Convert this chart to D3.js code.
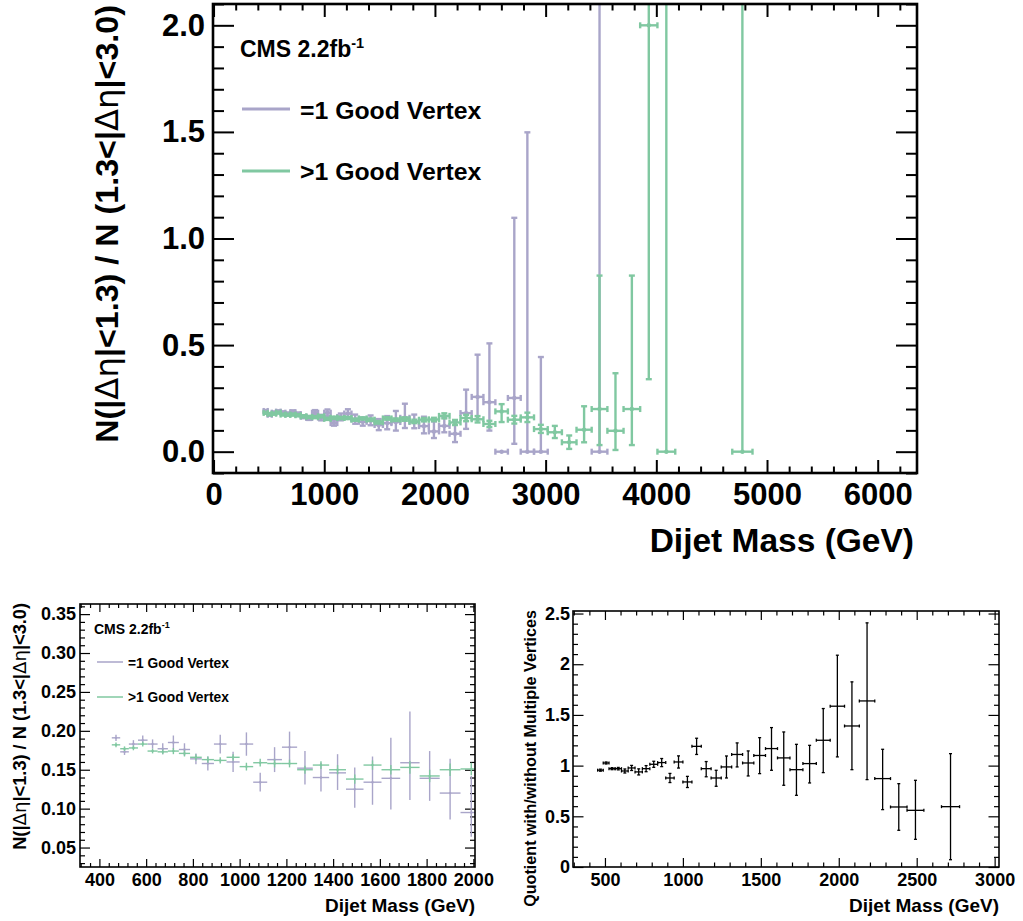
<!DOCTYPE html>
<html>
<head>
<meta charset="utf-8">
<script src="https://cdn.jsdelivr.net/npm/d3@7"></script>
<style>
  body { margin: 0; background: #fff; }
  svg { display: block; }
  text { font-family: "Liberation Sans", Arial, Helvetica, sans-serif; font-weight: bold; fill: #000; }
</style>
</head>
<body>
<svg id="chart" width="1023" height="921"></svg>
<script>
// Dijet mass bin edges (GeV); bin i spans binEdges[i] .. binEdges[i+1]
const binEdges = [453, 489, 526, 565, 606, 649, 693, 740, 788, 838, 890, 944, 1000, 1058, 1118, 1181,
  1246, 1313, 1383, 1455, 1530, 1607, 1687, 1770, 1856, 1945, 2037, 2132, 2231, 2332, 2438, 2546,
  2659, 2775, 2895, 3019, 3147, 3279, 3416, 3558, 3704, 3854, 4010, 4171, 4337, 4509, 4686, 4869];

const seriesNames = ["=1 Good Vertex", ">1 Good Vertex"];

// Ratio N(|Δη|<1.3)/N(1.3<|Δη|<3.0), events with exactly one good vertex
const oneVtx = [0.191, 0.173, 0.183, 0.188, 0.183, 0.177, 0.185, 0.176, 0.164, 0.158,
  0.183, 0.160, 0.183, 0.134, 0.163, 0.179, 0.152, 0.140, 0.146, 0.125,
  0.134, 0.139, 0.159, 0.139, 0.120, 0.095, 0.121, 0.084, 0.181, 0.257,
  0.232, 0, 0.252, 0, 0, null, null, null, 0, null,
  null, null, null, null, null, null, null];
const oneVtxErrLo = [0.004, 0.004, 0.005, 0.006, 0.006, 0.007, 0.009, 0.008, 0.007, 0.009,
  0.012, 0.013, 0.015, 0.012, 0.016, 0.019, 0.021, 0.018, 0.022, 0.024,
  0.029, 0.040, 0.048, 0.029, 0.034, 0.031, 0.030, 0.039, 0.074, 0.104,
  0.133, 0, 0.215, 0, 0, null, null, null, 0, null,
  null, null, null, null, null, null, null];
const oneVtxErrHi = [0.004, 0.004, 0.005, 0.006, 0.006, 0.007, 0.009, 0.008, 0.007, 0.009,
  0.012, 0.013, 0.015, 0.012, 0.016, 0.020, 0.022, 0.019, 0.024, 0.028,
  0.033, 0.052, 0.066, 0.035, 0.044, 0.047, 0.040, 0.057, 0.110, 0.198,
  0.276, 0, 0.845, 1.498, 0.444, null, null, null, 3.0, null,
  null, null, null, null, null, null, null];

// Same ratio, events with more than one good vertex
const multiVtx = [0.182, 0.177, 0.178, 0.183, 0.174, 0.173, 0.174, 0.171, 0.166, 0.163,
  0.162, 0.166, 0.154, 0.159, 0.158, 0.158, 0.150, 0.156, 0.150, 0.138,
  0.156, 0.150, 0.153, 0.142, 0.150, 0.151, 0.168, 0.137, 0.158, 0.152,
  0.130, 0.189, 0.150, 0.161, 0.106, 0.091, 0.044, 0.103, 0.200, 0.098,
  0.200, 2.000, 0, null, null, null, 0];
const multiVtxErrLo = [0.003, 0.003, 0.003, 0.003, 0.003, 0.003, 0.004, 0.004, 0.004, 0.004,
  0.004, 0.004, 0.005, 0.005, 0.005, 0.005, 0.005, 0.005, 0.006, 0.006,
  0.006, 0.006, 0.008, 0.008, 0.008, 0.008, 0.012, 0.012, 0.015, 0.015,
  0.015, 0.050, 0.018, 0.022, 0.018, 0.027, 0.031, 0.059, 0.169, 0.090,
  0.169, 1.660, 0, null, null, null, 0];
const multiVtxErrHi = [0.003, 0.003, 0.003, 0.003, 0.003, 0.003, 0.004, 0.004, 0.004, 0.004,
  0.004, 0.004, 0.005, 0.005, 0.005, 0.005, 0.005, 0.005, 0.006, 0.006,
  0.006, 0.006, 0.008, 0.008, 0.008, 0.008, 0.012, 0.012, 0.015, 0.015,
  0.015, 0.034, 0.018, 0.022, 0.020, 0.030, 0.032, 0.110, 0.626, 0.270,
  0.626, 3.0, 3.0, null, null, null, 3.0];

// Quotient of the two ratios (with / without multiple vertices)
const quotient = [0.955, 1.026, 0.970, 0.970, 0.947, 0.977, 0.938, 0.970, 1.013, 1.030,
  0.878, 1.036, 0.839, 1.190, 0.970, 0.878, 0.987, 1.110, 1.026, 1.100,
  1.168, 1.076, 0.960, 1.020, 1.250, 1.586, 1.391, 1.638, 0.872, 0.592,
  0.559, null, 0.595];
const quotientErrLo = [0.010, 0.010, 0.010, 0.012, 0.020, 0.025, 0.030, 0.030, 0.030, 0.040,
  0.045, 0.060, 0.055, 0.080, 0.080, 0.082, 0.109, 0.123, 0.128, 0.179,
  0.214, 0.270, 0.253, 0.191, 0.319, 0.500, 0.431, 0.776, 0.306, 0.230,
  0.286, null, 0.523];
const quotientErrHi = [0.010, 0.010, 0.010, 0.012, 0.020, 0.025, 0.030, 0.030, 0.030, 0.040,
  0.045, 0.060, 0.055, 0.080, 0.070, 0.076, 0.108, 0.114, 0.119, 0.176,
  0.207, 0.256, 0.250, 0.180, 0.313, 0.503, 0.435, 0.770, 0.289, 0.230,
  0.296, null, 0.523];

const purple = "#a9a5c9";
const green = "#80c8a1";

const svg = d3.select("#chart");
svg.append("rect").attr("width", 1023).attr("height", 921).attr("fill", "#fff");
const defs = svg.append("defs");

function toPoints(vals, lo, hi) {
  const pts = [];
  vals.forEach((v, i) => {
    if (v === null || v === undefined) return;
    pts.push({ lo: binEdges[i], hi: binEdges[i + 1], c: (binEdges[i] + binEdges[i + 1]) / 2,
               v: v, el: lo[i] || 0, eh: hi[i] || 0 });
  });
  return pts;
}

function minorTicks(dom, step, majorStep) {
  const out = [];
  const start = Math.ceil(dom[0] / step - 1e-9) * step;
  for (let t = start; t <= dom[1] + 1e-9; t += step) {
    const r = t / majorStep;
    if (Math.abs(r - Math.round(r)) > 1e-6) out.push(+t.toFixed(6));
  }
  return out;
}

function majorTicks(step, from, to) {
  const out = [];
  for (let t = from; t <= to + 1e-9; t += step) out.push(+t.toFixed(6));
  return out;
}

function makePanel(cfg) {
  const g = svg.append("g");
  const x = d3.scaleLinear().domain(cfg.xDom).range([cfg.l, cfg.r]);
  const y = d3.scaleLinear().domain(cfg.yDom).range([cfg.b, cfg.t]);

  defs.append("clipPath").attr("id", "clip-" + cfg.id)
    .append("rect").attr("x", cfg.l).attr("y", cfg.t)
    .attr("width", cfg.r - cfg.l).attr("height", cfg.b - cfg.t);

  const xMaj = majorTicks(cfg.xStep, cfg.xFrom, cfg.xTo);
  const xMin = minorTicks(cfg.xDom, cfg.xStep / cfg.xSub, cfg.xStep);
  const yMaj = majorTicks(cfg.yStep, cfg.yFrom, cfg.yTo);
  const yMin = minorTicks(cfg.yDom, cfg.yStep / cfg.ySub, cfg.yStep);

  function axis(fn, scale, vals, len, tx, ty, fmt, pad) {
    const a = fn(scale).tickValues(vals).tickSizeInner(-len).tickSizeOuter(0)
      .tickPadding(pad || 0).tickFormat(fmt || (() => ""));
    const ag = g.append("g").attr("transform", `translate(${tx},${ty})`).call(a);
    ag.select(".domain").remove();
    ag.attr("font-family", null).attr("font-size", null);
    ag.selectAll("line").attr("stroke", "#000").attr("stroke-width", cfg.tickW);
    ag.selectAll("text").attr("fill", "#000").style("font-size", cfg.labelSize + "px");
    return ag;
  }
  // bottom / top
  axis(d3.axisBottom, x, xMaj, cfg.xMajLen, 0, cfg.b, cfg.xFmt, cfg.xPad);
  axis(d3.axisBottom, x, xMin, cfg.xMinLen, 0, cfg.b);
  axis(d3.axisTop, x, xMaj, cfg.xMajLen, 0, cfg.t);
  axis(d3.axisTop, x, xMin, cfg.xMinLen, 0, cfg.t);
  // left / right
  axis(d3.axisLeft, y, yMaj, cfg.yMajLen, cfg.l, 0, cfg.yFmt, cfg.yPad);
  axis(d3.axisLeft, y, yMin, cfg.yMinLen, cfg.l, 0);
  axis(d3.axisRight, y, yMaj, cfg.yMajLen, cfg.r, 0);
  axis(d3.axisRight, y, yMin, cfg.yMinLen, cfg.r, 0);

  const plot = g.append("g").attr("clip-path", `url(#clip-${cfg.id})`);

  g.append("rect").attr("x", cfg.l).attr("y", cfg.t)
    .attr("width", cfg.r - cfg.l).attr("height", cfg.b - cfg.t)
    .attr("fill", "none").attr("stroke", "#000").attr("stroke-width", cfg.frameW);

  return { g, x, y, plot };
}

function drawErrors(p, pts, color, lw, cap, markerR) {
  const s = p.plot.append("g").attr("stroke", color).attr("stroke-width", lw).attr("fill", "none");
  pts.forEach(d => {
    const yc = p.y(d.v), xc = p.x(d.c);
    s.append("line").attr("x1", p.x(d.lo)).attr("x2", p.x(d.hi)).attr("y1", yc).attr("y2", yc);
    if (cap > 0) {
      s.append("line").attr("x1", p.x(d.lo)).attr("x2", p.x(d.lo)).attr("y1", yc - cap).attr("y2", yc + cap);
      s.append("line").attr("x1", p.x(d.hi)).attr("x2", p.x(d.hi)).attr("y1", yc - cap).attr("y2", yc + cap);
    }
    if (d.el > 0 || d.eh > 0) {
      const y0 = p.y(d.v - d.el), y1 = p.y(d.v + d.eh);
      s.append("line").attr("x1", xc).attr("x2", xc).attr("y1", y0).attr("y2", y1);
      if (cap > 0) {
        if (d.el > 0) s.append("line").attr("x1", xc - cap).attr("x2", xc + cap).attr("y1", y0).attr("y2", y0);
        if (d.eh > 0) s.append("line").attr("x1", xc - cap).attr("x2", xc + cap).attr("y1", y1).attr("y2", y1);
      }
    }
    if (markerR > 0) {
      p.plot.append("circle").attr("cx", xc).attr("cy", yc).attr("r", markerR).attr("fill", color);
    }
  });
}

// y-axis title with Greek letters in a lighter symbol face
function ratioTitle(sel, size) {
  const parts = [["N(|", 0], ["\u0394\u03b7", 1], ["|<1.3) / N (1.3<|", 0], ["\u0394\u03b7", 1], ["|<3.0)", 0]];
  parts.forEach(([t, greek]) => {
    const ts = sel.append("tspan").text(t);
    if (greek) ts.style("font-weight", "normal").style("font-family", "'DejaVu Sans', sans-serif");
  });
  sel.style("font-size", size + "px");
}

function fitLength(sel, target) {
  const node = sel.node();
  const len = node.getComputedTextLength();
  const fs = parseFloat(sel.style("font-size"));
  if (len > 0) sel.style("font-size", (fs * target / len) + "px");
}

function cmsLabel(g, x, y, size, supSize, dy) {
  const t = g.append("text").attr("x", x).attr("y", y).style("font-size", size + "px");
  t.append("tspan").text("CMS 2.2fb");
  t.append("tspan").text("-1").style("font-size", supSize + "px").attr("dy", -dy);
}

function legend(g, x0, x1, xt, rows, size, lw) {
  rows.forEach(r => {
    g.append("line").attr("x1", x0).attr("x2", x1).attr("y1", r.y).attr("y2", r.y)
      .attr("stroke", r.color).attr("stroke-width", lw);
    g.append("text").attr("x", xt).attr("y", r.ty).style("font-size", size + "px").text(r.name);
  });
}

const ptsOne = toPoints(oneVtx, oneVtxErrLo, oneVtxErrHi);
const ptsMulti = toPoints(multiVtx, multiVtxErrLo, multiVtxErrHi);
const ptsQuot = toPoints(quotient, quotientErrLo, quotientErrHi);

// ---- Main panel: full mass range ----
const mainPanel = makePanel({
  id: "main", l: 213, r: 917, t: 4, b: 473,
  xDom: [-5, 6355], yDom: [-0.1, 2.1],
  xStep: 1000, xSub: 5, xFrom: 0, xTo: 6000,
  yStep: 0.5, ySub: 5, yFrom: 0, yTo: 2.0,
  xMajLen: 13, xMinLen: 6.5, yMajLen: 21, yMinLen: 11,
  tickW: 2, frameW: 2.6, labelSize: 31,
  xFmt: d3.format("d"), yFmt: d3.format(".1f"), xPad: 10, yPad: 8
});
drawErrors(mainPanel, ptsOne, purple, 2.4, 3, 2.2);
drawErrors(mainPanel, ptsMulti, green, 2.4, 3, 2.2);
mainPanel.g.append("text").attr("x", 914).attr("y", 552).attr("text-anchor", "end")
  .style("font-size", "33.5px").text("Dijet Mass (GeV)");
{
  const t = mainPanel.g.append("text").attr("text-anchor", "end")
    .attr("transform", "translate(118,5) rotate(-90)");
  ratioTitle(t, 31);
  fitLength(t, 438);
}
cmsLabel(mainPanel.g, 240, 57, 23, 14.5, 9);
legend(mainPanel.g, 242, 290, 300, [
  { y: 109, ty: 119, color: purple, name: seriesNames[0] },
  { y: 171, ty: 180, color: green, name: seriesNames[1] }
], 24.8, 3);

// ---- Lower left: low-mass detail ----
const lowPanel = makePanel({
  id: "low", l: 80, r: 475, t: 604, b: 867,
  xDom: [317, 2007], yDom: [0.025, 0.363],
  xStep: 200, xSub: 5, xFrom: 400, xTo: 2000,
  yStep: 0.05, ySub: 5, yFrom: 0.05, yTo: 0.35,
  xMajLen: 8, xMinLen: 4, yMajLen: 10, yMinLen: 5,
  tickW: 1.2, frameW: 1.6, labelSize: 18,
  xFmt: d3.format("d"), yFmt: d3.format(".2f"), xPad: 6, yPad: 4
});
drawErrors(lowPanel, ptsOne, purple, 1.4, 0, 1.2);
drawErrors(lowPanel, ptsMulti, green, 1.4, 0, 1.2);
lowPanel.g.append("text").attr("x", 475).attr("y", 912).attr("text-anchor", "end")
  .style("font-size", "19px").text("Dijet Mass (GeV)");
{
  const t = lowPanel.g.append("text").attr("text-anchor", "end")
    .attr("transform", "translate(26,603) rotate(-90)");
  ratioTitle(t, 17);
  fitLength(t, 247);
}
cmsLabel(lowPanel.g, 94, 634, 14, 9, 6);
legend(lowPanel.g, 97, 123, 128, [
  { y: 662, ty: 667.5, color: purple, name: seriesNames[0] },
  { y: 697, ty: 702, color: green, name: seriesNames[1] }
], 13.8, 1.5);

// ---- Lower right: quotient of the two ratios ----
const quotPanel = makePanel({
  id: "quot", l: 573, r: 999, t: 611, b: 867,
  xDom: [295, 3028], yDom: [0, 2.525],
  xStep: 500, xSub: 5, xFrom: 500, xTo: 3000,
  yStep: 0.5, ySub: 5, yFrom: 0, yTo: 2.5,
  xMajLen: 9, xMinLen: 4.5, yMajLen: 10.5, yMinLen: 5,
  tickW: 1.2, frameW: 1.6, labelSize: 18,
  xFmt: d3.format("d"), yFmt: d => (d === 0 ? "0" : d3.format("~g")(d)), xPad: 6, yPad: 3
});
drawErrors(quotPanel, ptsQuot, "#000", 1.3, 1.5, 0);
quotPanel.g.append("text").attr("x", 999).attr("y", 912).attr("text-anchor", "end")
  .style("font-size", "19px").text("Dijet Mass (GeV)");
{
  const t = quotPanel.g.append("text").attr("text-anchor", "end")
    .attr("transform", "translate(536,610) rotate(-90)")
    .style("font-size", "16px").text("Quotient with/without Multiple Vertices");
  fitLength(t, 297);
}
</script>
</body>
</html>
